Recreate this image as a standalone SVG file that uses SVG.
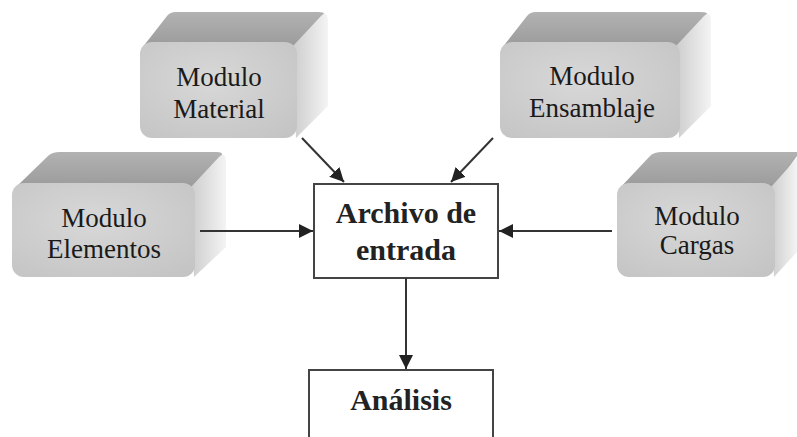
<svg xmlns="http://www.w3.org/2000/svg" width="797" height="437" viewBox="0 0 797 437">
<defs>
<linearGradient id="gTop" x1="0" y1="0" x2="0" y2="1"><stop offset="0" stop-color="#b2b2b2"/><stop offset="1" stop-color="#9a9a9a"/></linearGradient>
<linearGradient id="gSide" x1="0" y1="0" x2="1" y2="0"><stop offset="0" stop-color="#cdcdcd"/><stop offset="1" stop-color="#f4f4f4"/></linearGradient>
<radialGradient id="gFront" cx="0.45" cy="0.4" r="0.75"><stop offset="0" stop-color="#d8d8d8"/><stop offset="1" stop-color="#c4c4c4"/></radialGradient>
<marker id="arr" viewBox="0 0 10 10" refX="10" refY="5" markerWidth="7" markerHeight="7" orient="auto" markerUnits="strokeWidth"><path d="M0,0 L10,5 L0,10 Z" fill="#222"/></marker>
</defs>
<style>
.top{fill:url(#gTop)}
.side{fill:url(#gSide)}
.front{fill:url(#gFront)}
.mt{font-family:"Liberation Serif","Times New Roman",serif;font-size:27px;fill:#1a1a1a;text-anchor:middle}
.bt{font-family:"Liberation Serif","Times New Roman",serif;font-size:30px;font-weight:bold;fill:#222;text-anchor:middle}
.box{fill:#fff;stroke:#444;stroke-width:2}
.con{stroke:#333;stroke-width:2;fill:none;marker-end:url(#arr)}
</style>
<rect width="797" height="437" fill="#fff"/>

<g id="material">
<path class="top" d="M142,48 L167,16 Q170,12 176,12 L318,12 Q327,12 323,17 L297,46 Z"/>
<path class="side" d="M293,46 L321,16 Q327,10 328,20 L328,106 L296,138 Z"/>
<rect class="front" x="140" y="42" width="157" height="96" rx="12"/>
<text class="mt" x="219" y="86">Modulo</text>
<text class="mt" x="219" y="118">Material</text>
</g>

<g id="ensamblaje">
<path class="top" d="M502,48 L527,16 Q530,12 536,12 L701,12 Q710,12 706,17 L680,46 Z"/>
<path class="side" d="M676,46 L704,16 Q710,10 711,20 L711,106 L679,138 Z"/>
<rect class="front" x="500" y="42" width="180" height="96" rx="12"/>
<text class="mt" x="592" y="85">Modulo</text>
<text class="mt" x="592" y="117">Ensamblaje</text>
</g>

<g id="elementos">
<path class="top" d="M14,189 L48,156 Q52,152 60,152 L216,152 Q225,152 221,157 L195,187 Z"/>
<path class="side" d="M191,187 L219,157 Q225,151 226,161 L226,247 L194,277 Z"/>
<rect class="front" x="12" y="183" width="183" height="94" rx="12"/>
<text class="mt" x="104" y="227">Modulo</text>
<text class="mt" x="104" y="258">Elementos</text>
</g>

<g id="cargas">
<path class="top" d="M619,189 L650,156 Q654,152 662,152 L797,152 L797,156 L775,187 Z"/>
<path class="side" d="M771,187 L797,158 L797,252 L774,277 Z"/>
<rect class="front" x="617" y="183" width="158" height="94" rx="12"/>
<text class="mt" x="697" y="225">Modulo</text>
<text class="mt" x="697" y="254">Cargas</text>
</g>

<g id="archivo">
<rect class="box" x="314" y="184" width="184" height="94"/>
<text class="bt" x="406" y="223">Archivo de</text>
<text class="bt" x="406" y="260">entrada</text>
</g>

<g id="analisis">
<rect class="box" x="309" y="370" width="184" height="80"/>
<text class="bt" x="401" y="410">Análisis</text>
</g>

<g id="connectors">
<line class="con" x1="302" y1="138" x2="344" y2="182"/>
<line class="con" x1="493" y1="138" x2="451" y2="182"/>
<line class="con" x1="200" y1="231" x2="313" y2="231"/>
<line class="con" x1="612" y1="231" x2="499" y2="231"/>
<line class="con" x1="406" y1="278" x2="406" y2="369"/>
</g>
</svg>
